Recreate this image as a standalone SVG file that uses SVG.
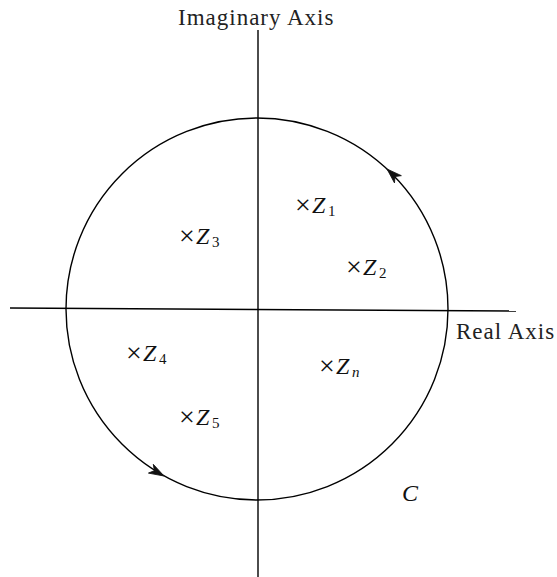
<svg xmlns="http://www.w3.org/2000/svg" width="557" height="577" viewBox="0 0 557 577">
<style>
.ln{fill:none;stroke:#000;stroke-width:1.4}
.lbl{font-family:"Liberation Serif",serif;font-size:23px;letter-spacing:1px;fill:#222}
.z{font-family:"Liberation Serif",serif;font-size:24px;fill:#111}
.zi{font-style:italic}
.x{font-size:28px}
.sub{font-size:15px}
.ah{fill:#111;stroke:#111;stroke-width:0.8;stroke-linejoin:miter}
</style>
<defs>
<path id="head" d="M0,0 L-15,-5 L-11,0 L-15,5 Z"/>
</defs>
<rect width="557" height="577" fill="#fff"/>
<g id="axes">
<line class="ln" x1="258" y1="30" x2="258" y2="577"/>
<line class="ln" x1="10" y1="308" x2="516" y2="311"/>
</g>
<g id="connectors">
<circle class="ln" cx="257" cy="309" r="191"/>
<use href="#head" class="ah" transform="translate(387,169) rotate(-136.7)"/>
<use href="#head" class="ah" transform="translate(164,476) rotate(29)"/>
</g>
<g id="labels">
<text class="lbl" x="178" y="25">Imaginary Axis</text>
<text class="lbl" x="456" y="339">Real Axis</text>
<text class="z zi" x="402" y="501" font-size="22">C</text>
</g>
<g id="z1"><text class="z" y="213"><tspan class="x" x="295" dy="1">×</tspan><tspan class="zi" x="312" dy="-1">Z</tspan><tspan class="sub" x="328" dy="3">1</tspan></text></g>
<g id="z2"><text class="z" y="275"><tspan class="x" x="346" dy="1">×</tspan><tspan class="zi" x="363" dy="-1">Z</tspan><tspan class="sub" x="379" dy="3">2</tspan></text></g>
<g id="z3"><text class="z" y="244"><tspan class="x" x="179" dy="1">×</tspan><tspan class="zi" x="196" dy="-1">Z</tspan><tspan class="sub" x="212" dy="3">3</tspan></text></g>
<g id="z4"><text class="z" y="361"><tspan class="x" x="126" dy="1">×</tspan><tspan class="zi" x="143" dy="-1">Z</tspan><tspan class="sub" x="159" dy="3">4</tspan></text></g>
<g id="zn"><text class="z" y="374"><tspan class="x" x="319" dy="1">×</tspan><tspan class="zi" x="336" dy="-1">Z</tspan><tspan class="sub zi" x="352" dy="3">n</tspan></text></g>
<g id="z5"><text class="z" y="425"><tspan class="x" x="179" dy="1">×</tspan><tspan class="zi" x="196" dy="-1">Z</tspan><tspan class="sub" x="212" dy="3">5</tspan></text></g>
</svg>
